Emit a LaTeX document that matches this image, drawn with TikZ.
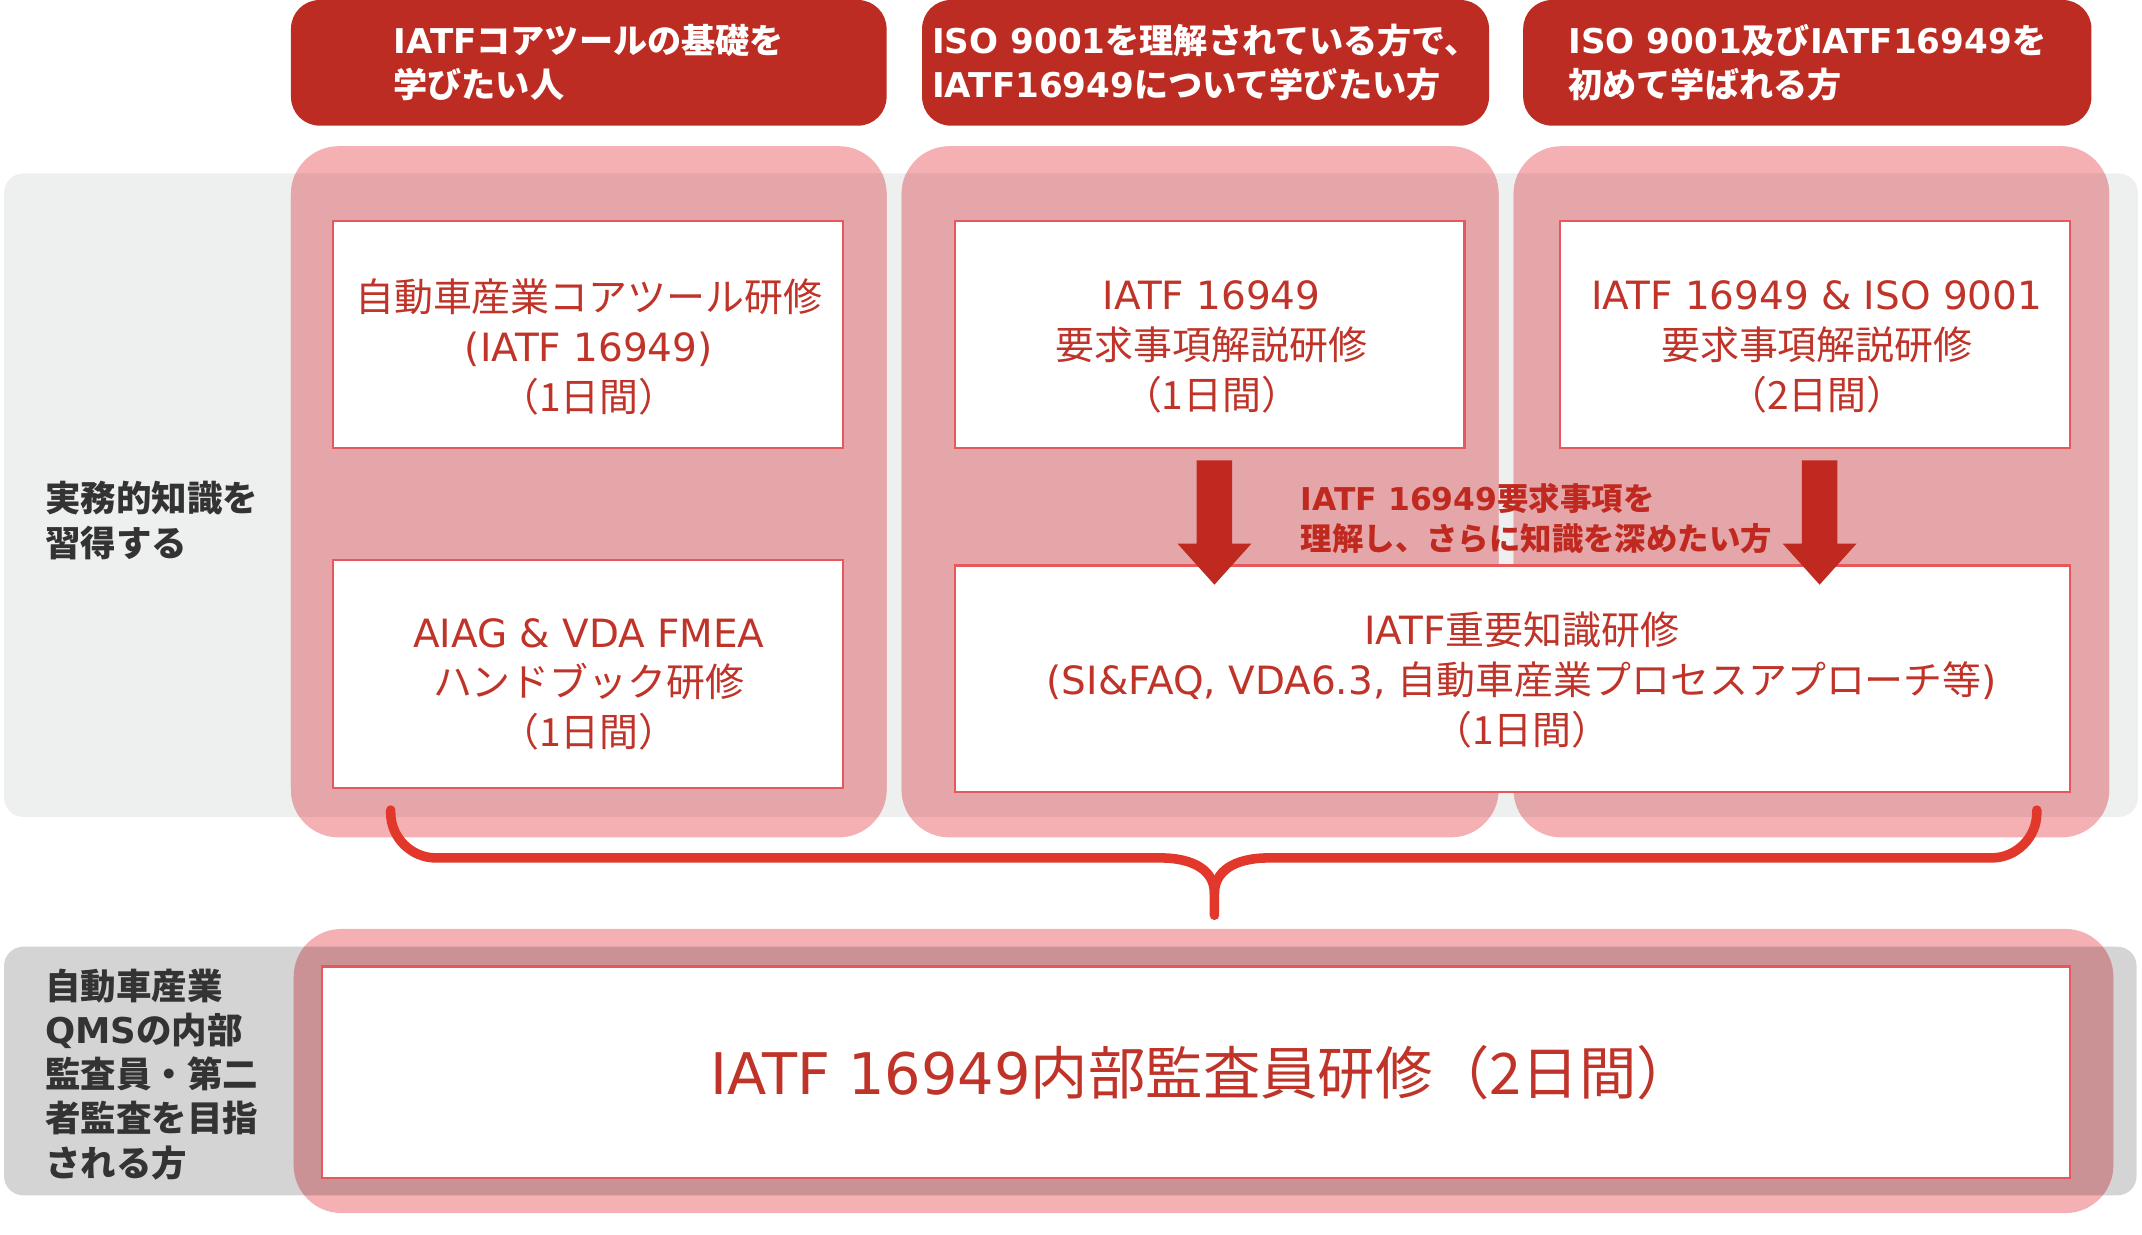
\documentclass[tikz,border=0pt]{standalone}
\usepackage{fontspec}
\usetikzlibrary{calc}
\setmainfont{Noto Sans CJK JP}
\newfontfamily\latfont{DejaVu Sans}
\newcommand{\latx}[1]{{\latfont #1}}
\definecolor{hdrred}{HTML}{BD2C22}
\definecolor{txtred}{HTML}{BF3328}
\definecolor{arrred}{HTML}{C0291F}
\definecolor{bracered}{HTML}{E2382C}
\definecolor{boxline}{HTML}{E7585C}
\definecolor{bandA}{HTML}{EEF0F0}
\definecolor{bandB}{HTML}{D4D4D4}
\definecolor{pinkW}{HTML}{F4B0B3}
\definecolor{pinkA}{HTML}{E4A6A8}
\definecolor{pinkB}{HTML}{CB9295}
\definecolor{labgray}{HTML}{333333}
\tikzset{
  hdr/.style={fill=hdrred, rounded corners=21pt, text=white, align=left,
    font=\bfseries\fontsize{25}{32}\selectfont, inner sep=0pt},
  wbox/.style={draw=boxline, line width=1.6pt, fill=white, inner sep=0pt},
  boxtxt/.style={text=txtred, align=center, inner sep=0pt,
    font=\fontsize{28.5}{36.5}\selectfont},
  rowlab/.style={text=labgray, align=left, anchor=west, inner sep=0pt,
    font=\bfseries\fontsize{26}{32.3}\selectfont},
  arrlab/.style={text=arrred, align=left, anchor=west, inner sep=0pt,
    font=\bfseries\fontsize{23}{29}\selectfont},
  bracestroke/.style={draw=bracered, line width=7pt, line cap=round, line join=round},
  blockarrow/.style={fill=arrred}
}
\begin{document}
\begin{tikzpicture}[x=1pt,y=-1pt]
\useasboundingbox (0,0) rectangle (1568,904);
% background bands
\fill[bandA, rounded corners=14pt] (3,127) rectangle (1565,598);
\fill[bandB, rounded corners=14pt] (3,693) rectangle (1564,875);
% pink columns on white
\fill[pinkW, rounded corners=35pt] (213,107) rectangle (649,613);
\fill[pinkW, rounded corners=35pt] (660,107) rectangle (1097,613);
\fill[pinkW, rounded corners=35pt] (1108,107) rectangle (1544,613);
\fill[pinkW, rounded corners=35pt] (215,680) rectangle (1547,888);
% pink over the gray bands
\begin{scope}
\clip[rounded corners=14pt] (3,127) rectangle (1565,598);
\fill[pinkA, rounded corners=35pt] (213,107) rectangle (649,613);
\fill[pinkA, rounded corners=35pt] (660,107) rectangle (1097,613);
\fill[pinkA, rounded corners=35pt] (1108,107) rectangle (1544,613);
\end{scope}
\begin{scope}
\clip[rounded corners=14pt] (3,693) rectangle (1564,875);
\fill[pinkB, rounded corners=35pt] (215,680) rectangle (1547,888);
\end{scope}
% headers
\node[hdr, minimum width=436pt, minimum height=92pt] (h1) at (431,46)
  {\latx{IATF}コアツールの基礎を\\学びたい人};
\node[hdr, minimum width=415pt, minimum height=92pt] (h2) at (882.5,46)
  {\latx{ISO 9001}を理解されている方で、\\\latx{IATF16949}について学びたい方};
\node[hdr, minimum width=416pt, minimum height=92pt] (h3) at (1323,46)
  {\latx{ISO 9001}及び\latx{IATF16949}を\\初めて学ばれる方};
% row labels
\node[rowlab] (r1) at (33,381) {実務的知識を\\習得する};
\node[rowlab] (r2) at (33,786.5) {自動車産業\\\latx{QMS}の内部\\監査員・第二\\者監査を目指\\される方};
% white boxes
\node[wbox, minimum width=373pt, minimum height=166pt] (A) at (430.5,245) {};
\node[wbox, minimum width=373pt, minimum height=167pt] (B) at (430.5,493.5) {};
\node[wbox, minimum width=373pt, minimum height=166pt] (C) at (885.5,245) {};
\node[wbox, minimum width=373pt, minimum height=166pt] (D) at (1328.5,245) {};
\node[wbox, minimum width=816pt, minimum height=166pt] (E) at (1107,497) {};
\node[wbox, minimum width=1279pt, minimum height=155pt] (F) at (875.5,785) {};
% arrows C->E, D->E (drawn over the top edge of E)
\coordinate (a1) at (889,337);
\coordinate (a2) at (1332,337);
\foreach \c in {a1,a2}{
  \fill[blockarrow] ($(\c)+(-13,0)$) -- ($(\c)+(13,0)$) -- ($(\c)+(13,61)$) -- ($(\c)+(27,61)$)
    -- ($(\c)+(0,91)$) -- ($(\c)+(-27,61)$) -- ($(\c)+(-13,61)$) -- cycle;
}
% texts
\node[boxtxt] (At) at (431,254) {自動車産業コアツール研修\\\latx{(IATF 16949)}\\（1日間）};
\node[boxtxt] (Bt) at (431,501) {\latx{AIAG \& VDA FMEA}\\ハンドブック研修\\（1日間）};
\node[boxtxt] (Ct) at (887,254) {\latx{IATF 16949}\\要求事項解説研修\\（1日間）};
\node[boxtxt] (Dt) at (1330,254) {\latx{IATF 16949 \& ISO 9001}\\要求事項解説研修\\（2日間）};
\node[boxtxt] (Et) at (1114,498) {\latx{IATF}重要知識研修\\\latx{(SI\&FAQ, VDA6.3, }自動車産業プロセスアプローチ等\latx{)}\\（1日間）};
\node[boxtxt, font=\fontsize{42}{50}\selectfont] (Ft) at (880,785) {\latx{IATF 16949}内部監査員研修（2日間）};
\node[arrlab] (al) at (952,379.5) {\latx{IATF 16949}要求事項を\\理解し、さらに知識を深めたい方};
% brace
\coordinate (bl) at (286,593);
\coordinate (br) at (1491,593);
\coordinate (bt) at (889,670);
\draw[bracestroke] (bl) -- (286,595) .. controls (286,613) and (301,628) .. (319,628) -- (849,628)
  .. controls (875,628) and (889,638) .. (889,654) -- (bt);
\draw[bracestroke] (br) -- (1491,595) .. controls (1491,613) and (1476,628) .. (1458,628) -- (929,628)
  .. controls (903,628) and (889,638) .. (889,654);
\end{tikzpicture}
\end{document}
